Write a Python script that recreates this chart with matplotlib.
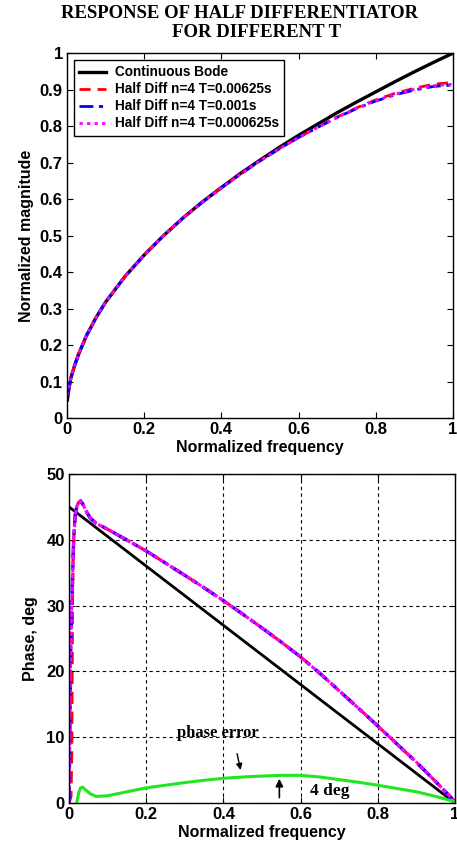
import matplotlib
matplotlib.use("Agg")
import matplotlib.pyplot as plt

# ---- magnitude response (normalized) ----
f_mag = [0.001, 0.005, 0.01, 0.02, 0.03, 0.05, 0.075, 0.1, 0.15, 0.2, 0.25, 0.3, 0.35,
         0.4, 0.45, 0.5, 0.55, 0.6, 0.65, 0.7, 0.75, 0.8, 0.85, 0.9, 0.95, 1.0]
mag_bode = [0.05, 0.08, 0.11, 0.145, 0.175, 0.225, 0.275, 0.318, 0.388, 0.447, 0.5, 0.548, 0.592,
            0.632, 0.671, 0.707, 0.742, 0.775, 0.806, 0.837, 0.866, 0.894, 0.922, 0.949, 0.975, 1.0]
mag_t1 = [0.065, 0.085, 0.112, 0.146, 0.176, 0.226, 0.276, 0.318, 0.388, 0.447, 0.5, 0.548, 0.591,
          0.631, 0.669, 0.705, 0.738, 0.769, 0.798, 0.825, 0.85, 0.872, 0.89, 0.904, 0.915, 0.92]
mag_t2 = [0.062, 0.084, 0.111, 0.146, 0.176, 0.226, 0.276, 0.318, 0.388, 0.447, 0.5, 0.548, 0.591,
          0.631, 0.669, 0.705, 0.738, 0.769, 0.797, 0.824, 0.848, 0.869, 0.886, 0.899, 0.909, 0.913]
mag_t3 = [0.062, 0.084, 0.111, 0.146, 0.176, 0.226, 0.276, 0.318, 0.388, 0.447, 0.5, 0.548, 0.591,
          0.631, 0.669, 0.705, 0.738, 0.769, 0.797, 0.824, 0.849, 0.870, 0.888, 0.901, 0.911, 0.915]

# ---- phase response (deg) ----
f_bode = [0.0, 1.0]
ph_bode = [45.0, 0.0]

f_ph = [0.0, 0.002, 0.004, 0.006, 0.009, 0.012, 0.016, 0.02, 0.025, 0.03, 0.035, 0.045, 0.055,
        0.07, 0.1, 0.15, 0.2, 0.25, 0.3, 0.35, 0.4, 0.45, 0.5, 0.55, 0.6, 0.65, 0.7, 0.75,
        0.8, 0.85, 0.9, 0.95, 1.0]
ph_half = [0.0, 10.0, 22.0, 28.0, 34.0, 40.0, 43.8, 45.0, 45.7, 45.9, 45.5, 44.3, 43.3,
           42.5, 41.6, 39.95, 38.3, 36.45, 34.6, 32.7, 30.75, 28.7, 26.6, 24.45, 22.2, 19.7,
           17.05, 14.4, 11.7, 8.95, 6.2, 3.25, 0.2]
f_ph_red = [0.0, 0.005, 0.007, 0.008, 0.009, 0.011, 0.014, 0.02, 0.025, 0.03, 0.035, 0.045,
            0.055, 0.07, 0.1, 0.15, 0.2, 0.25, 0.3, 0.35, 0.4, 0.45, 0.5, 0.55, 0.6, 0.65,
            0.7, 0.75, 0.8, 0.85, 0.9, 0.95, 1.0]
ph_red = [0.0, 1.0, 8.0, 20.0, 31.0, 38.0, 42.5, 45.0, 45.7, 45.9, 45.5, 44.3, 43.3,
          42.5, 41.6, 39.95, 38.3, 36.45, 34.6, 32.7, 30.75, 28.7, 26.6, 24.45, 22.2, 19.7,
          17.05, 14.4, 11.7, 8.95, 6.2, 3.25, 0.2]

f_err = [0.02, 0.025, 0.03, 0.035, 0.045, 0.055, 0.07, 0.1, 0.15, 0.2, 0.25, 0.3, 0.35, 0.4,
         0.45, 0.5, 0.55, 0.6, 0.65, 0.7, 0.75, 0.8, 0.85, 0.9, 0.95, 1.0]
ph_err = [0.0, 1.5, 2.3, 2.4, 1.9, 1.4, 1.0, 1.1, 1.7, 2.3, 2.7, 3.1, 3.45, 3.75,
          3.95, 4.1, 4.2, 4.2, 3.95, 3.55, 3.15, 2.7, 2.2, 1.7, 1.0, 0.2]

labels = ["Continuous Bode", "Half Diff n=4 T=0.00625s",
          "Half Diff n=4 T=0.001s", "Half Diff n=4 T=0.000625s"]

plt.rcParams['font.family'] = ['Liberation Sans', 'DejaVu Sans']
plt.rcParams['font.weight'] = 'bold'
plt.rcParams['axes.labelweight'] = 'bold'

fig = plt.figure(figsize=(4.57, 8.5), dpi=100)
ax1 = fig.add_axes([0.1466, 0.508, 0.8444, 0.4294])
ax2 = fig.add_axes([0.151, 0.0553, 0.8446, 0.3871])

ax1.plot(f_mag, mag_bode, color='black', lw=2.4, label=labels[0])
ax1.plot(f_mag, mag_t1, color='red', lw=2.0, ls=(0, (4, 2.5)), label=labels[1])
ax1.plot(f_mag, mag_t2, color='blue', lw=2.0, ls=(0, (5, 2, 1.5, 2)), label=labels[2])
ax1.plot(f_mag, mag_t3, color='magenta', lw=2.0, ls=(0, (1.2, 1.5)), label=labels[3])
ax1.set_xlim(0, 1)
ax1.set_ylim(0, 1)
ax1.set_xticks([0, 0.2, 0.4, 0.6, 0.8, 1])
ax1.set_xticklabels(['0', '0.2', '0.4', '0.6', '0.8', '1'])
ax1.set_yticks([i / 10 for i in range(11)])
ax1.set_yticklabels(['0'] + ['0.%d' % i for i in range(1, 10)] + ['1'])
ax1.set_xlabel("Normalized frequency", fontsize=11.5, labelpad=2)
ax1.set_ylabel("Normalized magnitude", fontsize=11.5, labelpad=4)
leg = ax1.legend(loc='upper left', fontsize=9.8, frameon=True, fancybox=False,
                 edgecolor='black', framealpha=1, handlelength=2.0, borderpad=0.4,
                 labelspacing=0.22, borderaxespad=0.5, handletextpad=0.6)
leg.get_frame().set_linewidth(1.0)

ax2.plot(f_bode, ph_bode, color='black', lw=2.0)
ax2.plot(f_ph_red, ph_red, color='red', lw=2.2, ls=(0, (4, 2.5)))
ax2.plot(f_ph, ph_half, color='blue', lw=2.4, ls=(0, (5, 2, 1.5, 2)))
ax2.plot(f_ph, ph_half, color='magenta', lw=2.2, ls=(0, (1.5, 0.6)))
ax2.plot(f_err, ph_err, color='#22e622', lw=2.2)
ax2.set_xlim(0, 1)
ax2.set_ylim(0, 50)
ax2.set_xticks([0, 0.2, 0.4, 0.6, 0.8, 1])
ax2.set_xticklabels(['0', '0.2', '0.4', '0.6', '0.8', '1'])
ax2.set_yticks([0, 10, 20, 30, 40, 50])
ax2.grid(True, color='black', ls=(0, (3, 3)), lw=0.8)
ax2.set_xlabel("Normalized frequency", fontsize=11.5, labelpad=2)
ax2.set_ylabel("Phase, deg", fontsize=11.5, labelpad=6)

serif = ['Liberation Serif', 'DejaVu Serif']
ax2.text(0.385, 10.7, "phase error", family=serif, fontsize=12, fontweight='bold',
         ha='center', va='center')
ax2.text(0.675, 1.8, "4 deg", family=serif, fontsize=12.5, fontweight='bold',
         ha='center', va='center')
ax2.annotate("", xy=(0.446, 4.6), xytext=(0.434, 7.9),
             arrowprops=dict(arrowstyle='-|>', color='black', lw=1.0, mutation_scale=9))
ax2.annotate("", xy=(0.545, 4.1), xytext=(0.545, 0.4),
             arrowprops=dict(arrowstyle='-|>', color='black', lw=1.2, mutation_scale=11))

for ax in (ax1, ax2):
    ax.tick_params(direction='in', top=True, right=True, length=4, width=0.8,
                   labelsize=12, pad=3)
    for sp in ax.spines.values():
        sp.set_linewidth(1.0)

# two-line title, second line sits a little right of the first
fig.text(0.525, 0.984, "RESPONSE OF HALF DIFFERENTIATOR", family=serif,
         fontsize=13.5, fontweight='bold', ha='center', va='center')
fig.text(0.562, 0.962, "FOR DIFFERENT T", family=serif,
         fontsize=13.5, fontweight='bold', ha='center', va='center')

fig.savefig("out.png", dpi=100)
